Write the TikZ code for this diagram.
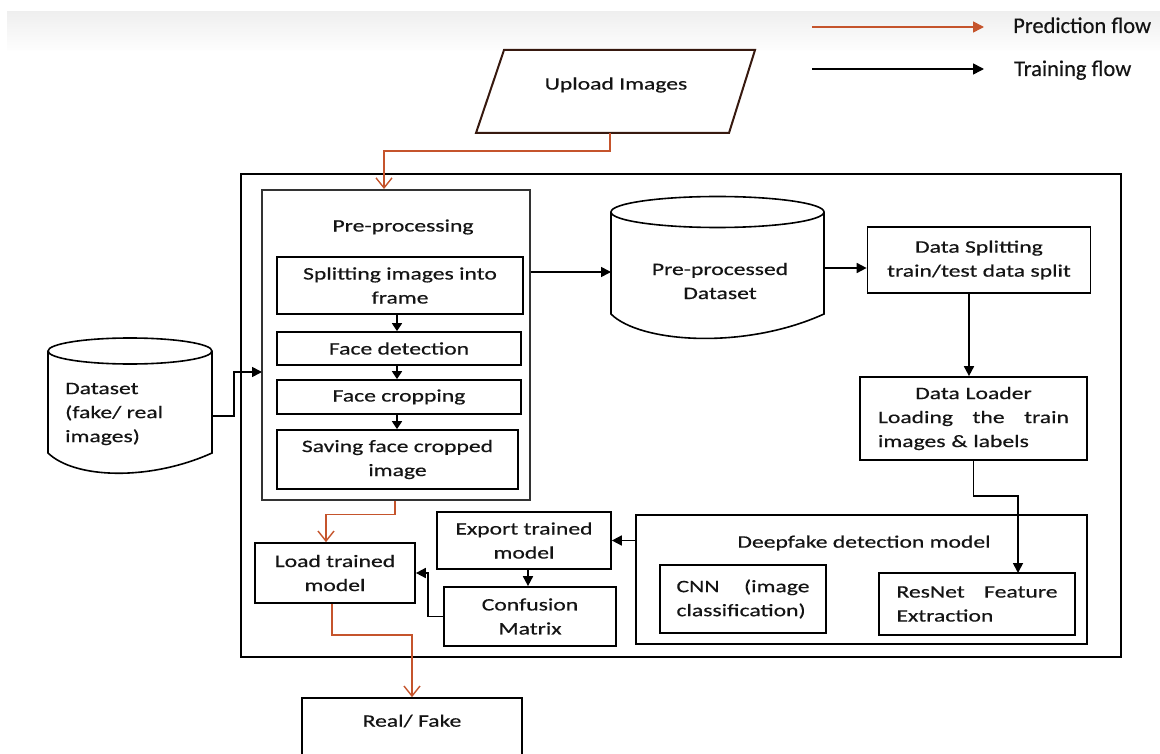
\documentclass[tikz,border=0pt]{standalone}
\usepackage{fontspec}
\setmainfont{Carlito}
\newfontfamily\bodyfam{Carlito}[FakeStretch=1.35,FakeBold=0.5]
\newfontfamily\legfam{Carlito}[FakeBold=0.4]
\usetikzlibrary{arrows.meta}
\definecolor{predred}{RGB}{197,84,44}
\definecolor{edgebrown}{RGB}{55,25,15}
\begin{document}
\begin{tikzpicture}[x=1pt,y=-1pt,
  bfont/.style={font=\bodyfam\fontsize{17.5}{24}\selectfont, text=black!92},
  box/.style={draw, line width=1.7pt, bfont, align=center, inner sep=0pt},
  lbl/.style={bfont, inner sep=0pt, align=center},
  legtext/.style={font=\legfam\fontsize{22.5}{26}\selectfont, text=black!92, inner sep=0pt, anchor=base west},
  tarrow/.style={line width=1.7pt, -{Triangle[length=10pt,width=10pt]}},
  sarrow/.style={line width=1.6pt, -{Triangle[length=8pt,width=10pt]}},
  parrow/.style={line width=1.4pt, draw=predred, -{Straight Barb[length=10pt,width=16pt,line width=1.4pt]}},
]
\useasboundingbox (0,0) rectangle (1160,754);
\clip (0,0) rectangle (1160,754);
% top grey band
\foreach \i in {0,...,39}{\pgfmathsetmacro\g{6.5-6*\i/39}\fill[black!\g] (7,11+\i) rectangle (1160,12+\i);}

% legend
\coordinate (lpa) at (812,27);
\coordinate (lpb) at (984,27);
\coordinate (lta) at (812,69);
\coordinate (ltb) at (984,69);
\draw[line width=1.6pt, predred, -{Triangle[length=11pt,width=11pt]}] (lpa) -- (lpb);
\draw[line width=1.6pt, -{Triangle[length=11pt,width=11pt]}] (lta) -- (ltb);
\node[legtext] (legp) at (1013,33) {Prediction flow};
\node[legtext] (legt) at (1014,76) {Training flow};

% upload images (parallelogram)
\draw[line width=2pt, edgebrown] (504,50) -- (755,50) -- (729,133) -- (476,133) -- cycle;
\node[lbl] (up) at (616,85) {Upload Images};
\coordinate (upb) at (610,133);

% outer frame
\node[draw, line width=2.2pt, minimum width=880pt, minimum height=483pt, inner sep=0pt] (outer) at (681,415.5) {};

% pre-processing container
\node[draw, line width=1.4pt, draw=black!80, minimum width=268pt, minimum height=310pt, inner sep=0pt] (prep) at (396,345) {};
\node[lbl] (preptitle) at (403,227) {Pre-processing};
\node[box, minimum width=246pt, minimum height=57pt] (split) at (400,285.5) {Splitting images into\\frame};
\node[box, minimum width=244pt, minimum height=33pt] (fdet) at (399,348.5) {Face detection};
\node[box, minimum width=244pt, minimum height=34pt] (fcrop) at (399,397) {Face cropping};
\node[box, minimum width=241pt, minimum height=59pt] (save) at (397.5,459.5) {Saving face cropped\\image};
\draw[sarrow] ([xshift=-3pt]split.south) -- ([xshift=-3pt]split.south |- fdet.north);
\draw[sarrow] ([xshift=-2pt]fdet.south) -- ([xshift=-2pt]fdet.south |- fcrop.north);
\draw[sarrow] ([xshift=-2pt]fcrop.south) -- ([xshift=-2pt]fcrop.south |- save.north);

% dataset cylinder
\draw[line width=1.6pt] (48,351) -- (48,453) .. controls (75,479) and (150,481) .. (212,453) -- (212,351);
\draw[line width=1.6pt] (130,351) ellipse [x radius=82, y radius=13];
\node[lbl, align=left, anchor=west] (ds) at (65,414) {Dataset\\(fake/ real\\images)};
\coordinate (dsout) at (212,416);
\coordinate (prepin) at (262,372);
\draw[tarrow] (dsout) -| (234,372) -- (prepin);

% pre-processed dataset cylinder
\draw[line width=1.6pt] (611,212) -- (611,314) .. controls (640,343) and (745,350) .. (824,314) -- (824,212);
\draw[line width=1.6pt] (717.5,212) ellipse [x radius=106.5, y radius=15.5];
\node[lbl] (ppd) at (720,281) {Pre-processed\\Dataset};
\coordinate (ppdin) at (611,272);
\coordinate (ppdout) at (824,268);
\draw[tarrow] (prep.east |- ppdin) -- (ppdin);

% data splitting / loader
\node[box, minimum width=223pt, minimum height=66pt] (dsplit) at (979,260) {Data Splitting\\train/test data split};
\draw[tarrow] (ppdout) -- (dsplit.west |- ppdout);
\node[box, minimum width=227pt, minimum height=83pt, text width=191pt, align=left] (loader) at (973.5,418.5)
  {\makebox[\linewidth]{Data Loader}\\Loading\hfill the\hfill train\\images \& labels};
\draw[tarrow] ([xshift=-10pt]dsplit.south) -- ([xshift=-10pt]dsplit.south |- loader.north);

% deepfake detection model
\node[draw, line width=1.7pt, minimum width=451pt, minimum height=129pt, inner sep=0pt] (dfm) at (861.5,579.5) {};
\node[lbl] (dfmtitle) at (864,543) {Deepfake detection model};
\node[box, minimum width=166pt, minimum height=68pt, text width=133pt, align=left] (cnn) at (743,599) {CNN\hfill(image\\classification)};
\node[box, minimum width=196pt, minimum height=62pt, text width=161pt, align=left] (resnet) at (977,604) {ResNet\hfill Feature\\Extraction};
\coordinate (resin) at (1018,573);
\draw[tarrow] (loader.south) -- ++(0,35) -| (resin);

% export / confusion / load
\node[box, minimum width=174pt, minimum height=57pt] (export) at (524,540.5) {Export trained\\model};
\node[box, minimum width=172pt, minimum height=59pt] (conf) at (530,616.5) {Confusion\\Matrix};
\node[box, minimum width=160pt, minimum height=60pt] (load) at (335,573) {Load trained\\model};
\draw[tarrow] (dfm.west |- export.east) -- (export.east);
\draw[tarrow] ([xshift=4pt]export.south) -- ([xshift=4pt]export.south |- conf.north);
\draw[tarrow] (conf.west) -| (428,573) -- (load.east);

% real / fake
\node[draw, line width=1.7pt, minimum width=220pt, minimum height=64pt, inner sep=0pt] (rf) at (412,730) {};
\node[lbl] (rftext) at (412,721) {Real/ Fake};

% prediction flow arrows
\draw[parrow] (upb) -- (610,151) -- (384,151) -- (384,189);
\draw[parrow] ([xshift=-1pt]prep.south) -- ++(0,14) -| ([xshift=-9pt]load.north);
\draw[parrow] ([xshift=-3pt]load.south) -- ++(0,31) -| (rf.north);
\end{tikzpicture}
\end{document}
